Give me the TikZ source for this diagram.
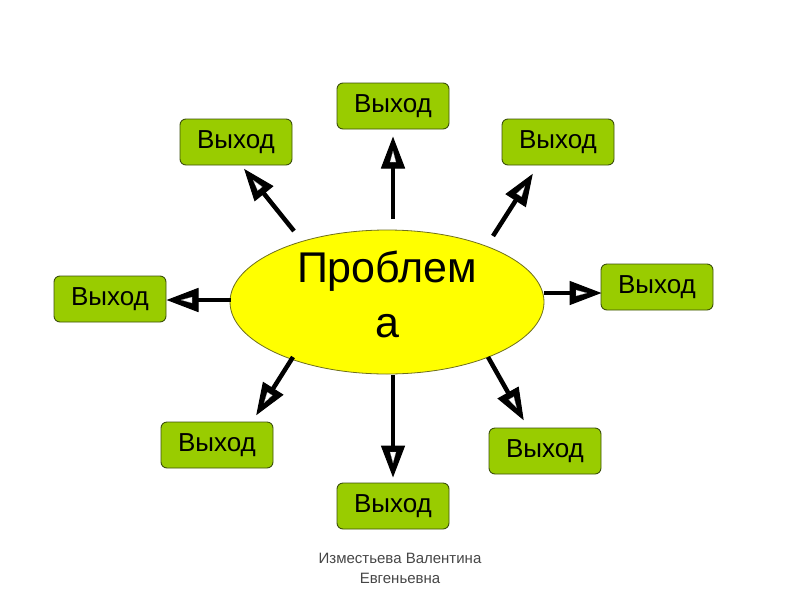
\documentclass[tikz,border=0pt]{standalone}
\usepackage{fontspec}
\setmainfont{Liberation Sans}
\usetikzlibrary{shapes.geometric,calc}
\definecolor{boxgreen}{RGB}{153,204,0}
\definecolor{boxline}{RGB}{60,80,10}
\definecolor{elyellow}{RGB}{255,255,0}
\definecolor{elline}{RGB}{110,110,30}
\definecolor{foot}{RGB}{70,70,70}
\tikzset{
  outbox/.style={draw=boxline, fill=boxgreen, line width=0.9pt, rounded corners=6pt,
    minimum width=112pt, minimum height=46pt, inner sep=0pt,
    font=\fontsize{26}{30}\selectfont},
  arrline/.style={line width=4.5pt},
  headout/.style={fill=black, draw=black, line width=1pt, line join=miter},
  headin/.style={fill=white, draw=gray, line width=0.4pt, dash pattern=on 1pt off 0.8pt},
}
\begin{document}
\begin{tikzpicture}[x=1pt,y=-1pt]
\useasboundingbox (0,0) rectangle (800,600);
\node[ellipse, draw=elline, fill=elyellow, line width=0.8pt, minimum width=314pt, minimum height=144pt, inner sep=0pt] (e) at (387,302) {};
\node[align=center, font=\fontsize{43}{55}\selectfont] (et) at (387,294) {Проблем\\а};
\node[outbox] (b1) at (393,106) {Выход};
\node[outbox] (b2) at (236,142) {Выход};
\node[outbox] (b3) at (558,142) {Выход};
\node[outbox] (b4) at (110,299) {Выход};
\node[outbox] (b5) at (657,287) {Выход};
\node[outbox] (b6) at (217,445) {Выход};
\node[outbox] (b7) at (545,451) {Выход};
\node[outbox] (b8) at (393,506) {Выход};
\coordinate (s1) at (393,219); \coordinate (t1) at (393,138);
\coordinate (s2) at (294,231); \coordinate (t2) at (245,170);
\coordinate (s3) at (493,236); \coordinate (t3) at (532,175);
\coordinate (s4) at (231,300); \coordinate (t4) at (168,300);
\coordinate (s5) at (544,293); \coordinate (t5) at (600,293);
\coordinate (s6) at (293,357); \coordinate (t6) at (257,414);
\coordinate (s7) at (488,357); \coordinate (t7) at (523,419);
\coordinate (s8) at (393,375); \coordinate (t8) at (393,476);
\foreach \i in {1,...,8} {
  \coordinate (B\i) at ($(t\i)!30pt!(s\i)$);
  \draw[arrline] (s\i) -- (B\i);
  \fill[headout] (t\i) -- ($(B\i)!11.5pt!90:(t\i)$) -- ($(B\i)!11.5pt!-90:(t\i)$) -- cycle;
  \coordinate (C\i) at ($(t\i)!24pt!(s\i)$);
  \filldraw[headin] ($(t\i)!13pt!(s\i)$) -- ($(C\i)!3pt!90:(t\i)$) -- ($(C\i)!3pt!-90:(t\i)$) -- cycle;
}
\node[align=center, text=foot, font=\fontsize{15}{20}\selectfont] (ft) at (400,568) {Изместьева Валентина\\Евгеньевна};
\end{tikzpicture}
\end{document}
